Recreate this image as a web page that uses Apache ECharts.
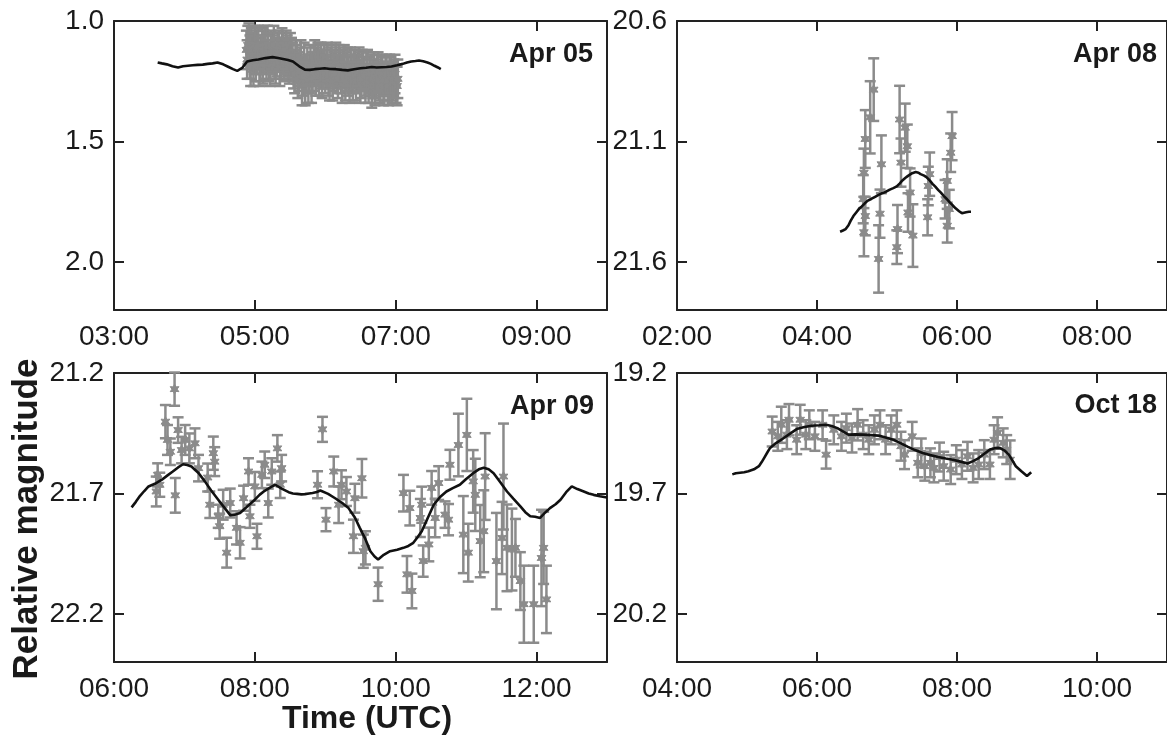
<!DOCTYPE html>
<html>
<head>
<meta charset="utf-8">
<script src="https://cdn.jsdelivr.net/npm/echarts@6/dist/echarts.min.js"></script>
<style>
html,body{margin:0;padding:0;background:#fff;overflow:hidden;}
#chart{width:1167px;height:747px;}
</style>
</head>
<body>
<div id="chart"></div>
<script>
// ---------- DATA (time in hours UTC, relative magnitude) ----------
const panelLabels = ['Apr 05', 'Apr 08', 'Apr 09', 'Oct 18'];

// Apr 05
const apr05Line = [[3.62,1.172],[3.68,1.176],[3.75,1.180],[3.83,1.188],[3.91,1.193],[3.98,1.188],[4.05,1.186],[4.12,1.184],[4.19,1.182],[4.26,1.181],[4.33,1.178],[4.40,1.176],[4.47,1.172],[4.55,1.180],[4.62,1.190],[4.69,1.200],[4.75,1.207],[4.82,1.195],[4.89,1.168],[4.97,1.163],[5.05,1.160],[5.15,1.154],[5.25,1.150],[5.33,1.154],[5.40,1.158],[5.47,1.162],[5.54,1.168],[5.63,1.188],[5.71,1.202],[5.78,1.203],[5.85,1.200],[5.92,1.198],[5.99,1.196],[6.07,1.199],[6.15,1.200],[6.24,1.203],[6.32,1.205],[6.41,1.200],[6.50,1.196],[6.58,1.194],[6.66,1.191],[6.73,1.193],[6.80,1.192],[6.87,1.191],[6.94,1.189],[7.02,1.184],[7.10,1.178],[7.16,1.172],[7.22,1.168],[7.28,1.166],[7.33,1.164],[7.39,1.167],[7.45,1.172],[7.50,1.178],[7.55,1.186],[7.60,1.193],[7.64,1.200]];
const apr05Pts = [[4.88,1.12,0.08],[4.89,1.16,0.08],[4.90,1.10,0.08],[4.915,1.09,0.08],[4.93,1.15,0.09],[4.94,1.19,0.08],[4.95,1.11,0.08],[4.965,1.13,0.08],[4.98,1.18,0.09],[4.99,1.14,0.08],[5.00,1.10,0.08],[5.015,1.17,0.08],[5.03,1.13,0.09],[5.04,1.11,0.08],[5.05,1.10,0.08],[5.065,1.19,0.08],[5.08,1.16,0.09],[5.09,1.14,0.08],[5.10,1.11,0.08],[5.115,1.18,0.08],[5.13,1.12,0.08],[5.14,1.10,0.08],[5.15,1.14,0.08],[5.165,1.16,0.08],[5.18,1.10,0.08],[5.19,1.13,0.08],[5.20,1.17,0.08],[5.215,1.19,0.08],[5.23,1.12,0.08],[5.245,1.14,0.08],[5.26,1.13,0.08],[5.27,1.10,0.08],[5.28,1.16,0.08],[5.295,1.18,0.08],[5.31,1.15,0.08],[5.325,1.13,0.08],[5.34,1.12,0.08],[5.355,1.19,0.08],[5.37,1.16,0.08],[5.385,1.11,0.08],[5.40,1.13,0.08],[5.415,1.17,0.08],[5.43,1.15,0.08],[5.445,1.12,0.08],[5.46,1.14,0.08],[5.475,1.16,0.08],[5.49,1.18,0.08],[5.505,1.13,0.08],[5.52,1.15,0.08],[5.535,1.17,0.08],[5.55,1.20,0.08],[5.565,1.22,0.08],[5.58,1.16,0.08],[5.595,1.18,0.08],[5.61,1.24,0.08],[5.625,1.21,0.08],[5.64,1.19,0.08],[5.655,1.16,0.08],[5.67,1.27,0.08],[5.685,1.23,0.08],[5.70,1.17,0.08],[5.715,1.26,0.09],[5.73,1.22,0.08],[5.745,1.19,0.08],[5.76,1.25,0.09],[5.775,1.22,0.08],[5.79,1.18,0.08],[5.805,1.26,0.08],[5.82,1.21,0.08],[5.835,1.18,0.08],[5.85,1.16,0.08],[5.865,1.23,0.08],[5.88,1.19,0.08],[5.895,1.17,0.08],[5.91,1.23,0.08],[5.925,1.20,0.08],[5.94,1.17,0.08],[5.955,1.24,0.08],[5.97,1.20,0.08],[5.985,1.18,0.08],[6.00,1.22,0.08],[6.015,1.20,0.08],[6.03,1.17,0.08],[6.045,1.23,0.08],[6.06,1.25,0.08],[6.075,1.19,0.08],[6.09,1.18,0.08],[6.105,1.25,0.08],[6.12,1.21,0.08],[6.135,1.20,0.08],[6.15,1.17,0.08],[6.165,1.22,0.08],[6.18,1.24,0.08],[6.195,1.18,0.08],[6.21,1.19,0.08],[6.225,1.22,0.08],[6.24,1.26,0.08],[6.255,1.20,0.08],[6.27,1.18,0.08],[6.285,1.25,0.08],[6.30,1.21,0.08],[6.315,1.19,0.08],[6.33,1.23,0.08],[6.345,1.26,0.08],[6.36,1.19,0.08],[6.375,1.22,0.08],[6.39,1.25,0.08],[6.405,1.20,0.08],[6.42,1.20,0.08],[6.435,1.25,0.08],[6.45,1.22,0.08],[6.465,1.21,0.08],[6.48,1.19,0.08],[6.495,1.26,0.08],[6.51,1.24,0.08],[6.525,1.20,0.08],[6.54,1.21,0.08],[6.555,1.23,0.08],[6.57,1.26,0.08],[6.585,1.21,0.08],[6.60,1.20,0.08],[6.615,1.26,0.08],[6.63,1.23,0.08],[6.645,1.22,0.08],[6.66,1.27,0.09],[6.675,1.24,0.08],[6.69,1.21,0.08],[6.705,1.27,0.08],[6.72,1.24,0.08],[6.735,1.22,0.08],[6.75,1.21,0.08],[6.765,1.25,0.08],[6.78,1.26,0.08],[6.795,1.23,0.08],[6.81,1.22,0.08],[6.825,1.27,0.08],[6.84,1.25,0.08],[6.855,1.23,0.08],[6.87,1.22,0.08],[6.885,1.25,0.08],[6.90,1.27,0.08],[6.915,1.22,0.08],[6.93,1.23,0.08],[6.945,1.26,0.08],[6.96,1.25,0.08],[6.975,1.24,0.08],[6.99,1.22,0.08],[7.005,1.26,0.08],[7.02,1.27,0.08],[7.03,1.24,0.08]];

// Apr 08
const apr08Line = [[4.33,21.475],[4.37,21.470],[4.41,21.464],[4.45,21.448],[4.48,21.430],[4.52,21.410],[4.56,21.395],[4.60,21.380],[4.64,21.370],[4.68,21.358],[4.72,21.347],[4.78,21.338],[4.83,21.330],[4.88,21.322],[4.93,21.315],[4.98,21.310],[5.04,21.300],[5.09,21.294],[5.14,21.287],[5.18,21.275],[5.22,21.262],[5.26,21.252],[5.30,21.243],[5.36,21.232],[5.41,21.227],[5.45,21.230],[5.48,21.236],[5.53,21.242],[5.57,21.250],[5.61,21.262],[5.65,21.276],[5.69,21.288],[5.73,21.301],[5.77,21.313],[5.81,21.326],[5.85,21.338],[5.89,21.351],[5.94,21.366],[5.98,21.378],[6.03,21.390],[6.07,21.398],[6.10,21.396],[6.13,21.394],[6.17,21.392],[6.20,21.392]];
const apr08Pts = [[4.81,20.885,0.13],[4.76,21.00,0.15],[4.69,21.09,0.12],[4.67,21.23,0.10],[4.66,21.34,0.10],[4.69,21.41,0.08],[4.67,21.477,0.10],[4.92,21.195,0.12],[4.90,21.40,0.10],[4.88,21.588,0.14],[5.18,21.009,0.14],[5.26,21.043,0.10],[5.20,21.188,0.10],[5.29,21.12,0.09],[5.15,21.464,0.10],[5.14,21.539,0.07],[5.33,21.312,0.10],[5.30,21.395,0.08],[5.37,21.491,0.13],[5.61,21.236,0.09],[5.59,21.285,0.08],[5.58,21.415,0.075],[5.93,21.078,0.10],[5.91,21.147,0.08],[5.86,21.264,0.09],[5.83,21.34,0.08],[5.89,21.381,0.08],[5.86,21.45,0.07]];

// Apr 09
const apr09Line = [[6.25,21.758],[6.31,21.735],[6.37,21.710],[6.43,21.690],[6.49,21.671],[6.58,21.660],[6.68,21.643],[6.76,21.625],[6.83,21.610],[6.91,21.592],[6.98,21.579],[7.04,21.582],[7.10,21.588],[7.20,21.615],[7.29,21.650],[7.38,21.688],[7.48,21.726],[7.57,21.760],[7.65,21.790],[7.72,21.788],[7.79,21.781],[7.90,21.752],[8.00,21.726],[8.07,21.705],[8.14,21.689],[8.22,21.675],[8.29,21.664],[8.38,21.680],[8.48,21.695],[8.54,21.700],[8.60,21.702],[8.66,21.704],[8.71,21.703],[8.77,21.700],[8.82,21.698],[8.88,21.694],[8.93,21.688],[9.04,21.702],[9.14,21.720],[9.24,21.740],[9.33,21.761],[9.42,21.800],[9.49,21.843],[9.57,21.890],[9.64,21.940],[9.70,21.962],[9.75,21.974],[9.83,21.955],[9.92,21.940],[10.02,21.934],[10.11,21.926],[10.18,21.918],[10.25,21.905],[10.31,21.882],[10.37,21.857],[10.45,21.805],[10.54,21.747],[10.63,21.715],[10.72,21.692],[10.81,21.678],[10.91,21.664],[11.00,21.640],[11.10,21.616],[11.18,21.600],[11.25,21.593],[11.32,21.600],[11.39,21.616],[11.48,21.652],[11.58,21.692],[11.67,21.722],[11.77,21.754],[11.84,21.778],[11.91,21.795],[11.98,21.797],[12.05,21.802],[12.12,21.780],[12.19,21.761],[12.27,21.745],[12.34,21.726],[12.42,21.695],[12.50,21.671],[12.58,21.682],[12.67,21.692],[12.74,21.700],[12.81,21.706],[12.90,21.712],[13.00,21.717]];
const apr09Pts = [[6.86,21.267,0.069],[6.73,21.402,0.069],[6.76,21.478,0.062],[6.91,21.437,0.053],[7.01,21.478,0.062],[7.07,21.513,0.062],[7.15,21.492,0.062],[6.62,21.623,0.048],[6.60,21.692,0.062],[6.65,21.664,0.05],[6.87,21.708,0.072],[6.80,21.527,0.055],[6.96,21.52,0.055],[7.20,21.595,0.055],[7.33,21.634,0.058],[7.41,21.533,0.069],[7.43,21.568,0.06],[7.36,21.747,0.055],[7.48,21.795,0.048],[7.50,21.836,0.052],[7.60,21.946,0.062],[7.55,21.747,0.062],[7.65,21.74,0.06],[7.74,21.843,0.069],[7.79,21.905,0.065],[7.84,21.72,0.052],[7.91,21.609,0.055],[7.93,21.795,0.048],[8.03,21.878,0.052],[8.00,21.671,0.06],[8.10,21.623,0.055],[8.19,21.74,0.06],[8.14,21.581,0.055],[8.24,21.609,0.055],[8.32,21.513,0.055],[8.38,21.595,0.055],[8.36,21.664,0.055],[8.96,21.434,0.052],[8.89,21.664,0.056],[9.01,21.809,0.048],[9.12,21.609,0.062],[9.19,21.747,0.076],[9.23,21.664,0.06],[9.30,21.692,0.06],[9.40,21.878,0.069],[9.42,21.72,0.06],[9.52,21.637,0.08],[9.54,21.94,0.069],[9.57,21.926,0.069],[9.75,22.077,0.069],[10.11,21.699,0.076],[10.16,22.036,0.076],[10.23,22.105,0.072],[10.20,21.761,0.072],[10.35,21.802,0.079],[10.37,21.747,0.075],[10.39,21.981,0.065],[10.47,21.912,0.07],[10.51,21.677,0.07],[10.56,21.802,0.08],[10.61,21.657,0.07],[10.70,21.788,0.055],[10.75,21.809,0.065],[10.77,21.581,0.062],[10.89,21.499,0.13],[11.01,21.457,0.15],[10.96,21.871,0.16],[11.03,21.946,0.12],[11.10,21.65,0.13],[11.13,21.706,0.15],[11.20,21.898,0.15],[11.25,21.857,0.17],[11.27,21.63,0.18],[11.43,21.981,0.2],[11.53,21.63,0.22],[11.51,21.885,0.15],[11.58,21.926,0.18],[11.65,21.933,0.17],[11.70,21.926,0.12],[11.77,22.064,0.12],[11.82,22.16,0.16],[11.96,22.16,0.16],[12.07,21.968,0.2],[12.10,21.926,0.15],[12.14,22.14,0.14]];

// Oct 18
const oct18Line = [[4.79,19.621],[4.84,19.616],[4.90,19.614],[4.96,19.612],[5.02,19.608],[5.10,19.600],[5.17,19.587],[5.21,19.570],[5.25,19.550],[5.29,19.530],[5.33,19.511],[5.41,19.492],[5.49,19.477],[5.60,19.455],[5.71,19.433],[5.82,19.424],[5.92,19.419],[6.03,19.417],[6.13,19.415],[6.21,19.420],[6.29,19.429],[6.37,19.442],[6.45,19.456],[6.55,19.455],[6.66,19.456],[6.77,19.458],[6.88,19.460],[6.98,19.468],[7.09,19.477],[7.20,19.492],[7.30,19.507],[7.40,19.520],[7.51,19.532],[7.62,19.541],[7.73,19.549],[7.84,19.555],[7.94,19.560],[8.05,19.568],[8.15,19.576],[8.23,19.566],[8.31,19.553],[8.39,19.535],[8.47,19.518],[8.54,19.512],[8.61,19.511],[8.68,19.522],[8.74,19.539],[8.79,19.563],[8.84,19.587],[8.92,19.608],[9.00,19.628],[9.06,19.612]];
const oct18Pts = [[5.36,19.443,0.062],[5.44,19.463,0.06],[5.49,19.415,0.075],[5.57,19.456,0.06],[5.60,19.394,0.065],[5.71,19.477,0.06],[5.76,19.394,0.062],[5.84,19.456,0.06],[5.89,19.415,0.06],[5.97,19.463,0.06],[6.08,19.415,0.06],[6.13,19.539,0.058],[6.24,19.436,0.06],[6.35,19.463,0.06],[6.42,19.429,0.06],[6.50,19.47,0.06],[6.58,19.415,0.065],[6.66,19.456,0.06],[6.74,19.477,0.06],[6.82,19.436,0.06],[6.90,19.415,0.06],[6.98,19.477,0.06],[7.06,19.436,0.06],[7.14,19.415,0.06],[7.20,19.504,0.06],[7.25,19.539,0.06],[7.36,19.463,0.06],[7.44,19.573,0.06],[7.49,19.532,0.06],[7.54,19.587,0.06],[7.62,19.573,0.06],[7.67,19.594,0.06],[7.75,19.549,0.06],[7.81,19.587,0.06],[7.91,19.601,0.06],[7.99,19.56,0.06],[8.07,19.58,0.06],[8.15,19.546,0.06],[8.23,19.594,0.06],[8.31,19.58,0.06],[8.39,19.539,0.06],[8.47,19.58,0.06],[8.53,19.477,0.06],[8.58,19.449,0.065],[8.66,19.49,0.06],[8.71,19.518,0.06],[8.76,19.56,0.08]];

// Axis ranges (hours / magnitude) and tick steps
const xRanges = [[3,10],[2,9],[6,13],[4,11]];
const yRanges = [[1.0,2.2],[20.6,21.8],[21.2,22.4],[19.2,20.4]];
const xStep = 2, yStep = 0.5;

// ---------- LAYOUT ----------
const FONT = '"Liberation Sans", Arial, Helvetica, sans-serif';
const TXT = '#1a1a1a', FRAME = '#222', GRAY = '#8b8b8b';
const boxes = [
  {left:114, top:21, width:493, height:289},
  {left:677, top:21, width:493, height:289},
  {left:114, top:373, width:493, height:289},
  {left:677, top:373, width:493, height:289}
];
const lines = [apr05Line, apr08Line, apr09Line, oct18Line];
const pts = [apr05Pts, apr08Pts, apr09Pts, oct18Pts];

const fmtTime = v => { const h = Math.round(v); return (h < 10 ? '0' : '') + h + ':00'; };
const tick = {show:true, inside:true, length:10, lineStyle:{color:FRAME, width:2}};
const axLine = {show:true, onZero:false, lineStyle:{color:FRAME, width:2}};

const grid = [], xAxis = [], yAxis = [], series = [];
boxes.forEach((b, i) => {
  grid.push(Object.assign({containLabel:false}, b));
  const xr = xRanges[i], yr = yRanges[i];
  xAxis.push({type:'value', gridIndex:i, position:'bottom', min:xr[0], max:xr[1], interval:xStep,
    axisLine:axLine, axisTick:tick, splitLine:{show:false},
    axisLabel:{show:true, showMaxLabel:false, margin:13, color:TXT, fontFamily:FONT, fontSize:28, formatter:fmtTime}});
  xAxis.push({type:'value', gridIndex:i, position:'top', min:xr[0], max:xr[1], interval:xStep,
    axisLine:axLine, axisTick:tick, splitLine:{show:false}, axisLabel:{show:false}});
  yAxis.push({type:'value', gridIndex:i, position:'left', inverse:true, min:yr[0], max:yr[1], interval:yStep,
    axisLine:axLine, axisTick:tick, splitLine:{show:false},
    axisLabel:{show:true, showMaxLabel:false, margin:10, color:TXT, fontFamily:FONT, fontSize:28, formatter:v => v.toFixed(1)}});
  yAxis.push({type:'value', gridIndex:i, position:'right', inverse:true, min:yr[0], max:yr[1], interval:yStep,
    axisLine:axLine, axisTick:tick, splitLine:{show:false}, axisLabel:{show:false}});

  series.push({
    type:'custom', xAxisIndex:2*i, yAxisIndex:2*i, z:2, silent:true,
    data: pts[i], encode:{x:0, y:1},
    renderItem: function(params, api){
      const t = api.value(0), m = api.value(1), e = api.value(2);
      const c = api.coord([t, m]);
      const a = api.coord([t, m - e]);
      const d = api.coord([t, m + e]);
      const cw = 5.5;
      const st = {stroke:GRAY, lineWidth:2.5};
      const star = [];
      const R = 5, r = 2.6;
      for (let k = 0; k < 12; k++) {
        const ang = Math.PI * k / 6 - Math.PI/2;
        const rr = (k % 2 === 0) ? R : r;
        star.push([c[0] + rr*Math.cos(ang), c[1] + rr*Math.sin(ang)]);
      }
      return {type:'group', children:[
        {type:'line', shape:{x1:a[0], y1:a[1], x2:d[0], y2:d[1]}, style:st},
        {type:'line', shape:{x1:a[0]-cw, y1:a[1], x2:a[0]+cw, y2:a[1]}, style:st},
        {type:'line', shape:{x1:d[0]-cw, y1:d[1], x2:d[0]+cw, y2:d[1]}, style:st},
        {type:'polygon', shape:{points:star}, style:{fill:GRAY, stroke:GRAY, lineWidth:1}}
      ]};
    }
  });
  series.push({
    type:'line', xAxisIndex:2*i, yAxisIndex:2*i, z:5, silent:true,
    data: lines[i], showSymbol:false, symbol:'none',
    lineStyle:{color:'#111', width:2.6}
  });
});

const labelPos = [[593,55],[1157,55],[594,407],[1157,406]];
const graphic = panelLabels.map((t, i) => ({
  type:'text', x:labelPos[i][0], y:labelPos[i][1], silent:true,
  style:{text:t, font:'bold 27px ' + FONT, fill:TXT, align:'right', verticalAlign:'middle'}
}));
graphic.push({type:'text', x:27, y:519, rotation:Math.PI/2, silent:true,
  style:{text:'Relative magnitude', font:'bold 35px ' + FONT, fill:TXT, align:'center', verticalAlign:'middle'}});
graphic.push({type:'text', x:367, y:719, silent:true,
  style:{text:'Time (UTC)', font:'bold 32px ' + FONT, fill:TXT, align:'center', verticalAlign:'middle'}});

const chart = echarts.init(document.getElementById('chart'), null, {renderer:'canvas'});
chart.setOption({
  animation:false, backgroundColor:'#fff',
  grid, xAxis, yAxis, series, graphic
});
</script>
</body>
</html>
